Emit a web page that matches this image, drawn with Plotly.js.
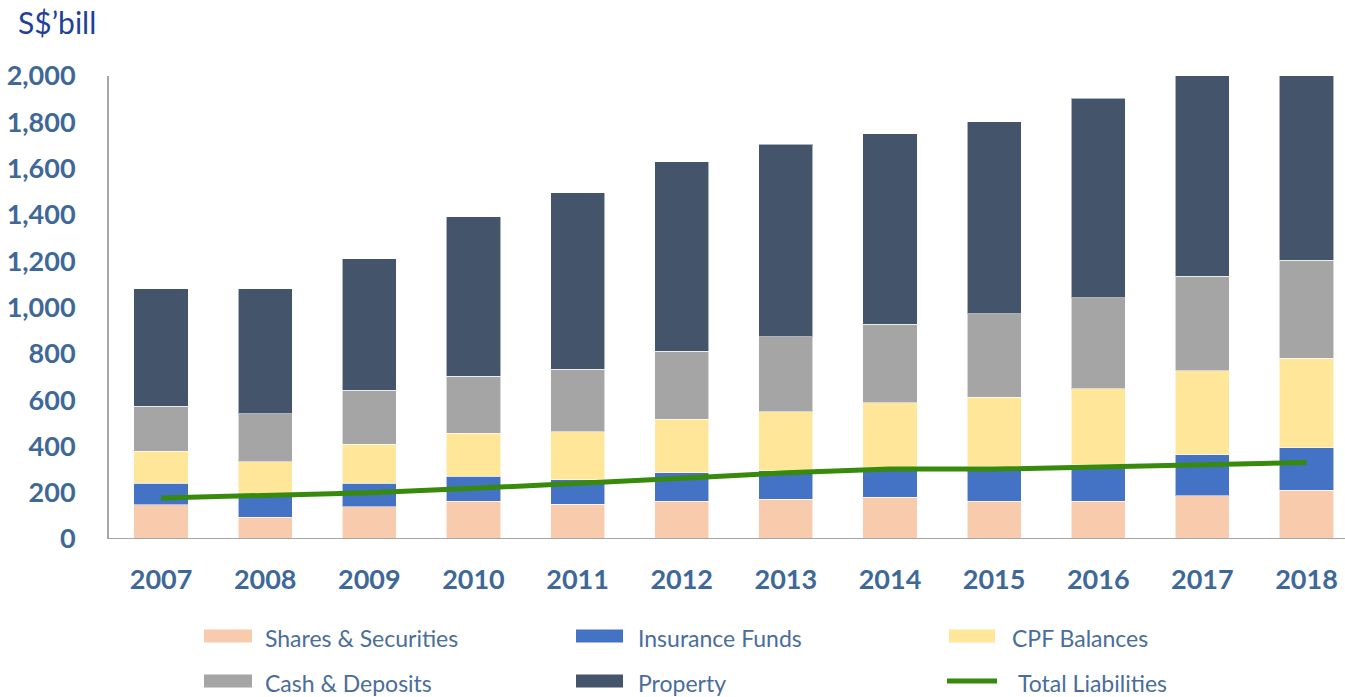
<!DOCTYPE html>
<html>
<head>
<meta charset="utf-8">
<script src="https://cdn.plot.ly/plotly-3.0.1.min.js"></script>
<style>
  html, body { margin: 0; padding: 0; background: #ffffff; }
  #chart { width: 1345px; height: 697px; }
</style>
</head>
<body>
<div id="chart"></div>
<script>
// ---- data (S$ billion) ----
var years = ["2007","2008","2009","2010","2011","2012","2013","2014","2015","2016","2017","2018"];
var sharesSecurities = [148, 95, 140, 164, 150, 164, 171, 180, 164, 164, 187, 210];
var insuranceFunds   = [93, 102, 101, 108, 105, 123, 123, 130, 148, 156, 176, 184];
var cpfBalances      = [139, 137, 169, 185, 209, 231, 255, 278, 300, 329, 363, 387];
var cashDeposits     = [193, 207, 232, 247, 270, 294, 324, 339, 361, 393, 409, 424];
var property         = [507, 539, 568, 687, 761, 817, 832, 824, 830, 862, 870, 800];
var totalLiabilities = [177, 186, 200, 219, 238, 262, 286, 302, 302, 310, 322, 330];
var yTickValues = [0, 200, 400, 600, 800, 1000, 1200, 1400, 1600, 1800, 2000];
var yTickLabels = ["0","200","400","600","800","1,000","1,200","1,400","1,600","1,800","2,000"];

var seriesNames  = ["Shares & Securities","Insurance Funds","CPF Balances","Cash & Deposits","Property"];
var seriesValues = [sharesSecurities, insuranceFunds, cpfBalances, cashDeposits, property];
var seriesColors = ["#f8cbad","#4472c4","#ffe699","#a5a5a5","#44546a"];
var lineName = "Total Liabilities";
var lineColor = "#378a0c";

// ---- geometry helpers (pixel -> paper) ----
var W = 1345, H = 697;
var M = {l: 109, r: 0, t: 76, b: 158};
var PW = W - M.l - M.r, PH = H - M.t - M.b;
function px(x) { return (x - M.l) / PW; }
function py(y) { return (H - M.b - y) / PH; }

var traces = [];
for (var i = 0; i < seriesNames.length; i++) {
  traces.push({
    type: "bar",
    name: seriesNames[i],
    x: years,
    y: seriesValues[i],
    width: 0.52,
    marker: {color: seriesColors[i], line: {color: "rgba(255,255,255,0.55)", width: 1}},
    showlegend: false,
    hoverinfo: "x+y+name"
  });
}
traces.push({
  type: "scatter",
  mode: "lines",
  name: lineName,
  x: years,
  y: totalLiabilities,
  line: {color: lineColor, width: 5},
  showlegend: false
});

// ---- manual legend (to match swatch shapes) ----
var legendCols = [
  {sx0: 204, sx1: 252, tx: 263},
  {sx0: 576, sx1: 623, tx: 636},
  {sx0: 949, sx1: 995, tx: 1010}
];
var legendRows = [636, 681];
var legendText = {family: "Lato, 'Open Sans', sans-serif", size: 23, color: "#4a6d9c"};
var shapes = [], annotations = [];
var entries = [
  {name: seriesNames[0], color: seriesColors[0], kind: "box", c: 0, r: 0},
  {name: seriesNames[1], color: seriesColors[1], kind: "box", c: 1, r: 0},
  {name: seriesNames[2], color: seriesColors[2], kind: "box", c: 2, r: 0},
  {name: seriesNames[3], color: seriesColors[3], kind: "box", c: 0, r: 1},
  {name: seriesNames[4], color: seriesColors[4], kind: "box", c: 1, r: 1},
  {name: lineName,       color: lineColor,       kind: "line", c: 2, r: 1}
];
entries.forEach(function (e) {
  var col = legendCols[e.c], yc = legendRows[e.r];
  if (e.kind === "box") {
    shapes.push({type: "rect", xref: "paper", yref: "paper",
      x0: px(col.sx0), x1: px(col.sx1), y0: py(yc + 6.5), y1: py(yc - 6.5),
      fillcolor: e.color, line: {width: 0}});
    annotations.push({xref: "paper", yref: "paper", x: px(col.tx), y: py(yc + 2),
      xanchor: "left", yanchor: "middle", showarrow: false, text: e.name, font: legendText});
  } else {
    shapes.push({type: "line", xref: "paper", yref: "paper",
      x0: px(col.sx0 - 2), x1: px(col.sx1 + 2), y0: py(yc), y1: py(yc),
      line: {color: e.color, width: 5}});
    annotations.push({xref: "paper", yref: "paper", x: px(col.tx + 6), y: py(yc + 2),
      xanchor: "left", yanchor: "middle", showarrow: false, text: e.name, font: legendText});
  }
});
annotations.push({xref: "paper", yref: "paper", x: px(16), y: py(22),
  xanchor: "left", yanchor: "middle", showarrow: false, text: "S$’bill",
  font: {family: "Lato, 'Open Sans', sans-serif", size: 30, color: "#1f3f9c"}});

var tickFont = {family: "Lato, 'Open Sans', sans-serif", size: 27, color: "#3e6898", weight: "bold"};

var layout = {
  width: W, height: H,
  margin: M,
  paper_bgcolor: "#ffffff",
  plot_bgcolor: "#ffffff",
  barmode: "stack",
  showlegend: false,
  xaxis: {
    type: "category",
    range: [-0.5, 11.37],
    showgrid: false,
    showline: false,
    zeroline: false,
    ticks: "",
    tickfont: tickFont,
    ticklabelstandoff: 22,
    fixedrange: true
  },
  yaxis: {
    range: [0, 2000],
    tickvals: yTickValues,
    ticktext: yTickLabels,
    showgrid: false,
    zeroline: false,
    showline: true,
    linecolor: "#a6a6a6",
    linewidth: 2,
    ticks: "",
    tickfont: tickFont,
    ticklabelstandoff: 26,
    fixedrange: true
  },
  shapes: [
    {type: "line", xref: "paper", yref: "y", x0: 0, x1: 1, y0: 0, y1: 0,
     line: {color: "#a6a6a6", width: 2}, layer: "above"}
  ].concat(shapes),
  annotations: annotations
};

Plotly.newPlot("chart", traces, layout, {displayModeBar: false, staticPlot: true});
</script>
</body>
</html>
